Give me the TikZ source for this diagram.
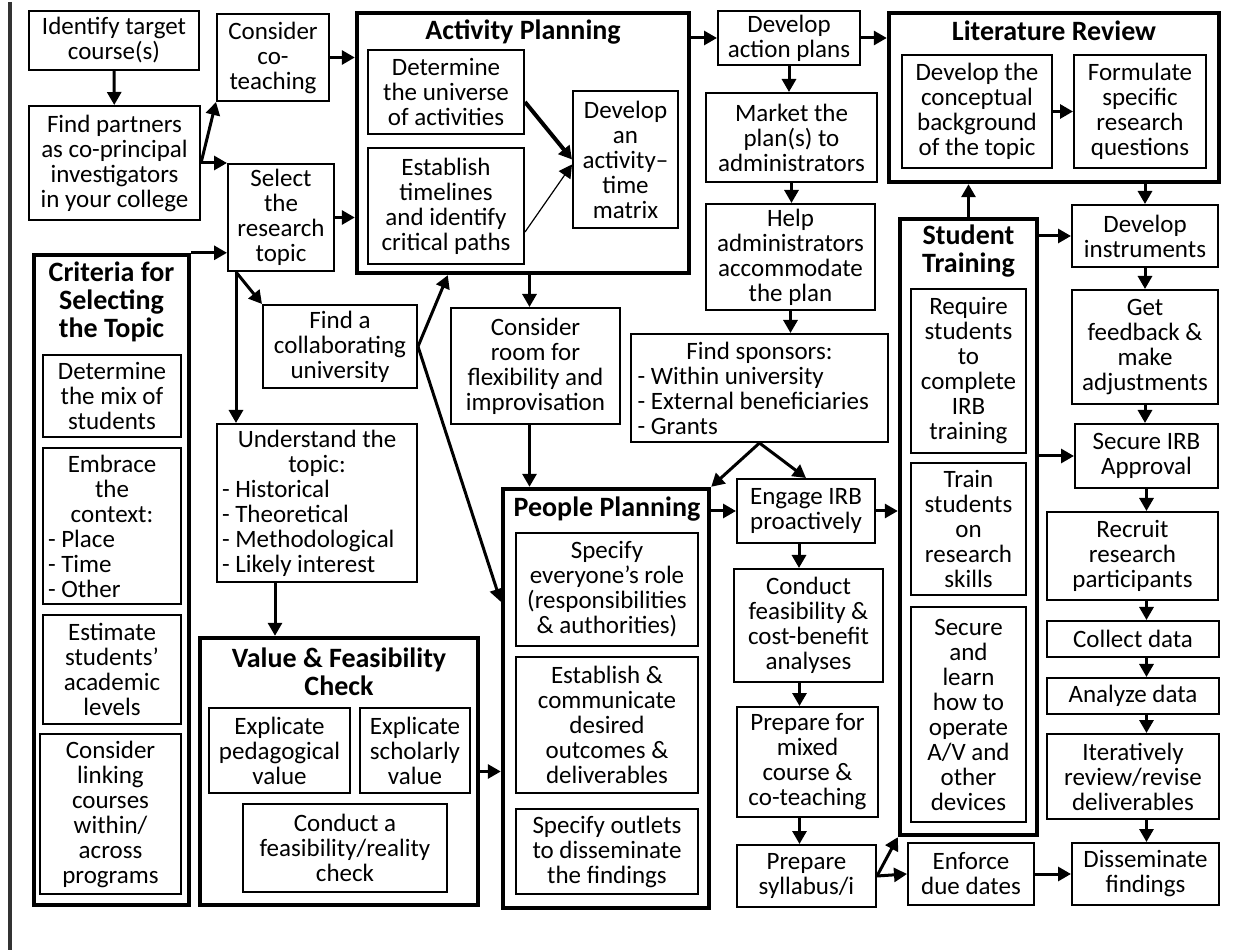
\documentclass[tikz,border=0pt]{standalone}
\usepackage{fontspec}
\setmainfont{Carlito}
\usepackage{tikz}
\usetikzlibrary{arrows.meta}
\newcommand{\dl}[1]{\makebox[\linewidth][l]{#1}}

\begin{document}
\begin{tikzpicture}[x=0.5pt, y=-0.5pt]
    \tikzstyle{box} = [draw, rectangle, line width=1pt, align=center, inner sep=1.5pt, font=\fontsize{12.5}{12.5}\selectfont]
    \tikzstyle{grp} = [draw, rectangle, line width=2.2pt]
    \tikzstyle{ttl} = [align=center, inner sep=0pt, font=\fontsize{14}{14}\selectfont\bfseries]
    \tikzstyle{arr} = [-{Triangle[length=6.5pt,width=7pt]}, line width=1.5pt]

    \fill[white] (0,0) rectangle (1244,948);
    \draw[line width=2pt, black!80] (10,0) -- (10,948);

    \node[box, minimum width=85pt, minimum height=29.5pt] (idt) at (114,38.5) {Identify target\\course(s)};
    \node[box, minimum width=85.5pt, minimum height=57pt] (fp) at (114.5,161) {Find partners\\as co-principal\\investigators\\in your college};
    \node[box, minimum width=56pt, minimum height=43.5pt] (cot) at (273,55.5) {Consider\\co-\\teaching};
    \node[box, minimum width=53pt, minimum height=53.5pt] (sel) at (281,215.5) {Select\\the\\research\\topic};

    \node[grp, minimum width=77.5pt, minimum height=325pt] (crit) at (111.5,578) {};
    \node[ttl] (critT) at (111.5,300) {Criteria for\\Selecting\\the Topic};
    \node[box, minimum width=69pt, minimum height=41pt] (mix) at (112,394) {Determine\\the mix of\\students};
    \node[box, align=flush center, minimum width=69pt, minimum height=78pt, text width=64pt] (ctx) at (112,524) {Embrace\\the\\context:\\\dl{- Place}\\\dl{- Time}\\\dl{- Other}};
    \node[box, minimum width=69pt, minimum height=54.5pt] (est) at (112,667.5) {Estimate\\students’\\academic\\levels};
    \node[box, minimum width=70.5pt, minimum height=80pt] (lnk) at (110.5,812) {Consider\\linking\\courses\\within/\\across\\programs};

    \node[box, minimum width=77pt, minimum height=41.5pt] (col) at (340,344.5) {Find a\\collaborating\\university};
    \node[box, align=flush center, minimum width=100pt, minimum height=79pt, text width=95pt] (und) at (317,501) {Understand the\\topic:\\\dl{- Historical}\\\dl{- Theoretical}\\\dl{- Methodological}\\\dl{- Likely interest}};

    \node[grp, minimum width=139pt, minimum height=133.5pt] (val) at (339,769.5) {};
    \node[ttl] (valT) at (339,670) {Value \& Feasibility\\Check};
    \node[box, minimum width=70.5pt, minimum height=42.5pt] (ped) at (279.5,748.5) {Explicate\\pedagogical\\value};
    \node[box, minimum width=55pt, minimum height=42.5pt] (sch) at (415,748.5) {Explicate\\scholarly\\value};
    \node[box, minimum width=102pt, minimum height=44pt] (rea) at (345,846) {Conduct a\\feasibility/reality\\check};

    \node[grp, minimum width=166pt, minimum height=130pt] (act) at (523,141) {};
    \node[ttl] (actT) at (523,30) {Activity Planning};
    \node[box, minimum width=78pt, minimum height=42pt] (uni) at (446,90) {Determine\\the universe\\of activities};
    \node[box, minimum width=78pt, minimum height=58pt] (tml) at (446,204) {Establish\\timelines\\and identify\\critical paths};
    \node[box, minimum width=52.5pt, minimum height=68.5pt] (mat) at (625.5,157.5) {Develop\\an\\activity--\\time\\matrix};

    \node[box, minimum width=84.5pt, minimum height=58pt] (room) at (535.5,364) {Consider\\room for\\flexibility and\\improvisation};

    \node[grp, minimum width=103pt, minimum height=209.5pt] (ppl) at (606,696.5) {};
    \node[ttl] (pplT) at (607,507) {People Planning};
    \node[box, minimum width=91pt, minimum height=56.5pt] (rol) at (607,587.5) {Specify\\everyone’s role\\(responsibilities\\\& authorities)};
    \node[box, minimum width=91pt, minimum height=68pt] (out) at (607,723) {Establish \&\\communicate\\desired\\outcomes \&\\deliverables};
    \node[box, minimum width=91pt, minimum height=42.5pt] (otl) at (607,849.5) {Specify outlets\\to disseminate\\the findings};

    \node[box, minimum width=71pt, minimum height=27pt] (dap) at (789,36) {Develop\\action plans};
    \node[box, minimum width=85.5pt, minimum height=44.5pt] (mkt) at (791.5,135.5) {Market the\\plan(s) to\\administrators};
    \node[box, minimum width=84.5pt, minimum height=53pt] (hlp) at (790.5,255) {Help\\administrators\\accommodate\\the plan};
    \node[box, align=flush center, minimum width=128.5pt, minimum height=54pt, text width=122pt] (spn) at (759.5,386) {Find sponsors:\\\dl{- Within university}\\\dl{- External beneficiaries}\\\dl{- Grants}};
    \node[box, minimum width=69pt, minimum height=32pt] (irb) at (806,509) {Engage IRB\\proactively};
    \node[box, minimum width=74.5pt, minimum height=56.5pt] (cba) at (808.5,623.5) {Conduct\\feasibility \&\\cost-benefit\\analyses};
    \node[box, minimum width=70.5pt, minimum height=55pt] (mxd) at (807.5,760) {Prepare for\\mixed\\course \&\\co-teaching};
    \node[box, minimum width=69.5pt, minimum height=31pt] (syl) at (806.5,874) {Prepare\\syllabus/i};

    \node[grp, minimum width=165pt, minimum height=84.5pt] (lit) at (1054,95.5) {};
    \node[ttl] (litT) at (1054,29) {Literature Review};
    \node[box, minimum width=75pt, minimum height=56.5pt] (cnc) at (977,109.5) {Develop the\\conceptual\\background\\of the topic};
    \node[box, minimum width=66pt, minimum height=56.5pt] (rq) at (1140,109.5) {Formulate\\specific\\research\\questions};

    \node[grp, minimum width=68.5pt, minimum height=308pt] (stu) at (968.5,525) {};
    \node[ttl] (stuT) at (968.5,249) {Student\\Training};
    \node[box, minimum width=57.5pt, minimum height=82pt] (req) at (968.5,369) {Require\\students\\to\\complete\\IRB\\training};
    \node[box, minimum width=57.5pt, minimum height=66pt] (trn) at (968.5,527) {Train\\students\\on\\research\\skills};
    \node[box, minimum width=57.5pt, minimum height=107.5pt] (dev) at (968.5,712.5) {Secure\\and\\learn\\how to\\operate\\A/V and\\other\\devices};
    \node[box, minimum width=63pt, minimum height=31pt] (due) at (971,872) {Enforce\\due dates};

    \node[box, minimum width=73pt, minimum height=31pt] (ins) at (1145,234) {Develop\\instruments};
    \node[box, minimum width=73pt, minimum height=57pt] (fbk) at (1145,345) {Get\\feedback \&\\make\\adjustments};
    \node[box, minimum width=71.5pt, minimum height=32pt] (apv) at (1146.5,454) {Secure IRB\\Approval};
    \node[box, minimum width=85.5pt, minimum height=44pt] (rec) at (1132.5,554) {Recruit\\research\\participants};
    \node[box, minimum width=86pt, minimum height=18pt] (cdt) at (1133,637) {Collect data};
    \node[box, minimum width=86pt, minimum height=18pt] (adt) at (1133,694) {Analyze data};
    \node[box, minimum width=86pt, minimum height=42.5pt] (itr) at (1133,774.5) {Iteratively\\review/revise\\deliverables};
    \node[box, minimum width=73.5pt, minimum height=31pt] (dis) at (1145.5,872) {Disseminate\\findings};

    \draw[arr] (idt) -- (fp);
    \draw[arr] (fp.east) -- (cot.south west);
    \draw[arr] (fp.east) -- (sel.north west);
    \draw[arr] (cot.east) -- (cot.east -| act.west);
    \draw[arr] (sel.east) -- (sel.east -| act.west);
    \draw[arr] (crit.north east) -- (crit.north east -| sel.west);
    \draw[arr] ([xshift=4.5pt]sel.south west) -- (col.north west);
    \draw[arr] ([xshift=4.5pt]sel.south west) -- ([xshift=4.5pt]sel.south west |- und.north);
    \draw[arr] (col.east) -- ([xshift=46.5pt]act.south west);
    \draw[arr] (col.east) -- ([yshift=-57.5pt]ppl.north west);
    \draw[arr] ([xshift=-21pt]und.south) -- ([xshift=-21pt]und.south |- val.north);
    \draw[arr] (val.east) -- (val.east -| ppl.west);
    \draw[arr, line width=2pt] ([yshift=-5pt]uni.east) -- (mat.west);
    \draw[arr, line width=0.6pt] ([yshift=-13pt]tml.east) -- ([yshift=-2.5pt]mat.west);
    \draw[arr] ([xshift=-3pt]room.north |- act.south) -- ([xshift=-3pt]room.north);
    \draw[arr] ([xshift=-3pt]room.south) -- ([xshift=-3pt]room.south |- ppl.north);
    \draw[arr] (act.east |- dap.west) -- (dap.west);
    \draw[arr] (dap.east) -- (dap.east -| lit.west);
    \draw[arr] (dap.south) -- (dap.south |- mkt.north);
    \draw[arr] (mkt.south) -- (mkt.south |- hlp.north);
    \draw[arr] (hlp.south) -- (hlp.south |- spn.north);
    \draw[arr] (spn.south) -- (ppl.north east);
    \draw[arr] (spn.south) -- (irb.north);
    \draw[arr] (irb.west -| ppl.east) -- (irb.west);
    \draw[arr] (irb.east) -- (irb.east -| stu.west);
    \draw[arr] ([xshift=-3.5pt]irb.south) -- ([xshift=-3.5pt]irb.south |- cba.north);
    \draw[arr] ([xshift=-4.5pt]cba.south) -- ([xshift=-4.5pt]cba.south |- mxd.north);
    \draw[arr] ([xshift=-4pt]mxd.south) -- ([xshift=-4pt]mxd.south |- syl.north);
    \draw[arr] (syl.east) -- (stu.south west);
    \draw[arr] (syl.east) -- (due.west);
    \draw[arr] (due.east) -- (dis.west);
    \draw[arr] (cnc.east) -- (rq.west);
    \draw[arr] (stu.north) -- (stu.north |- lit.south);
    \draw[arr] (ins.north |- lit.south) -- (ins.north);
    \draw[arr] (ins.west -| stu.east) -- (ins.west);
    \draw[arr] (ins.south) -- (fbk.north);
    \draw[arr] (fbk.south) -- (fbk.south |- apv.north);
    \draw[arr] (apv.west -| stu.east) -- (apv.west);
    \draw[arr] (apv.south) -- (apv.south |- rec.north);
    \draw[arr] (apv.south |- rec.south) -- (apv.south |- cdt.north);
    \draw[arr] (apv.south |- cdt.south) -- (apv.south |- adt.north);
    \draw[arr] (apv.south |- adt.south) -- (apv.south |- itr.north);
    \draw[arr] (apv.south |- itr.south) -- (apv.south |- dis.north);
\end{tikzpicture}
\end{document}
